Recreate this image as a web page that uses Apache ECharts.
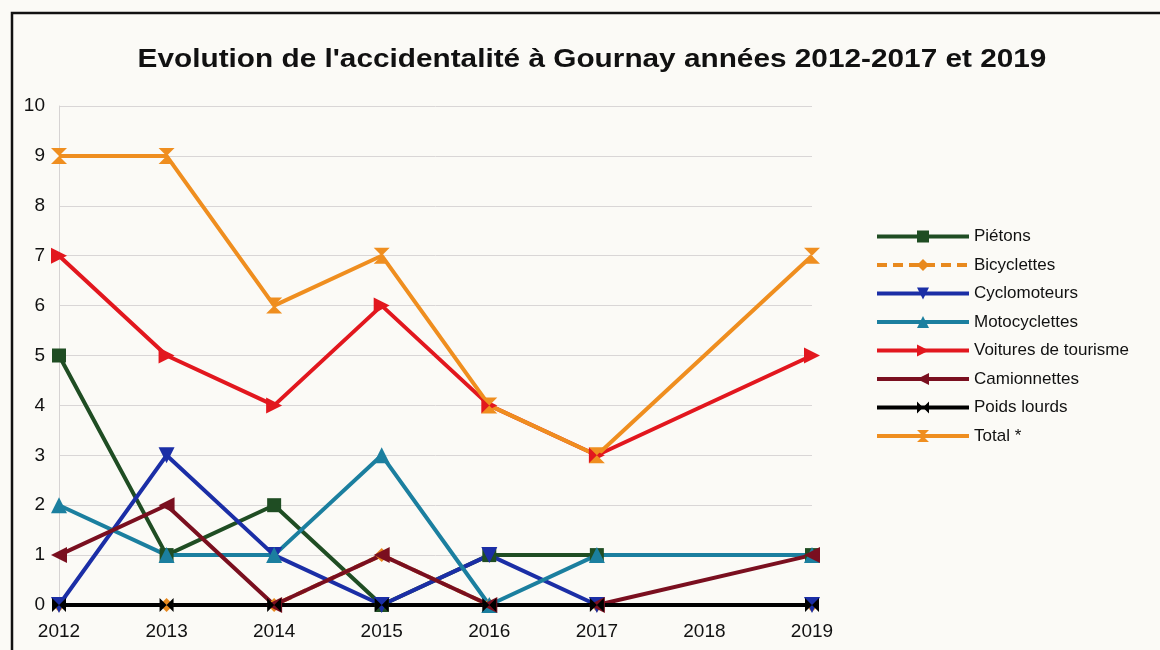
<!DOCTYPE html>
<html>
<head>
<meta charset="utf-8">
<script src="https://cdn.jsdelivr.net/npm/echarts@6/dist/echarts.min.js"></script>
<style>
  html, body { margin: 0; padding: 0; background: #fbfaf6; }
  #main { width: 1160px; height: 650px; }
</style>
</head>
<body>
<div id="main"></div>
<script>
// years on the x axis (2018 has no data)
var years = ['2012', '2013', '2014', '2015', '2016', '2017', '2018', '2019'];
var yTicks = [0, 1, 2, 3, 4, 5, 6, 7, 8, 9, 10];

var pietons       = [5, 1, 2, 0, 1, 1, null, 1];
var bicyclettes   = [0, 0, 0, 1, 0, 0, null, 0];
var cyclomoteurs  = [0, 3, 1, 0, 1, 0, null, 0];
var motocyclettes = [2, 1, 1, 3, 0, 1, null, 1];
var voitures      = [7, 5, 4, 6, 4, 3, null, 5];
var camionnettes  = [1, 2, 0, 1, 0, 0, null, 1];
var poidsLourds   = [0, 0, 0, 0, 0, 0, null, 0];
var total         = [9, 9, 6, 7, 4, 3, null, 7];

var hourglass = 'path://M0,0 L10,0 L0,10 L10,10 Z';
var bowtie = 'path://M0,0 L10,10 L10,0 L0,10 Z';

function serie(name, data, color, symbol, size, dash) {
  var s = {
    name: name,
    type: 'line',
    data: data,
    connectNulls: true,
    symbol: symbol,
    symbolSize: size,
    showAllSymbol: true,
    itemStyle: { color: color },
    lineStyle: { color: color, width: 4 },
    emphasis: { disabled: true }
  };
  if (dash) s.lineStyle.type = dash;
  return s;
}

var chart = echarts.init(document.getElementById('main'));
chart.setOption({
  backgroundColor: '#fbfaf6',
  animation: false,
  graphic: [{
    type: 'polyline',
    shape: { points: [[12, 660], [12, 13], [1170, 13]] },
    style: { stroke: '#111', lineWidth: 2.5, fill: null }
  }, {
    type: 'text',
    x: 592,
    y: 60,
    scaleX: 1.145,
    style: {
      text: "Evolution de l'accidentalité à Gournay années 2012-2017 et 2019",
      font: 'bold 26px "Liberation Sans"',
      fill: '#111',
      align: 'center',
      verticalAlign: 'middle'
    }
  }],
  grid: { left: 59, right: 348, top: 106, bottom: 45 },
  legend: {
    orient: 'vertical',
    left: 875,
    top: 228,
    padding: 0,
    itemWidth: 92,
    itemHeight: 15,
    itemGap: 11.5,
    lineStyle: { width: 4 },
    textStyle: { fontFamily: 'Liberation Sans', fontSize: 17, color: '#111' },
    data: ['Piétons', 'Bicyclettes', 'Cyclomoteurs', 'Motocyclettes', 'Voitures de tourisme', 'Camionnettes', 'Poids lourds', 'Total *']
  },
  xAxis: {
    type: 'category',
    data: years,
    boundaryGap: false,
    axisLine: { show: false },
    axisTick: { show: false },
    axisLabel: { fontFamily: 'Liberation Sans', fontSize: 19, color: '#111', margin: 17 },
    splitLine: { show: false }
  },
  yAxis: {
    type: 'value',
    min: yTicks[0],
    max: yTicks[yTicks.length - 1],
    interval: 1,
    axisLine: { show: true, lineStyle: { color: '#d6d3d3', width: 1 } },
    axisTick: { show: false },
    axisLabel: { fontFamily: 'Liberation Sans', fontSize: 19, color: '#111', margin: 14 },
    splitLine: { lineStyle: { color: '#d9d6d6', width: 1 } }
  },
  series: [
    serie('Piétons', pietons, '#1f4d23', 'rect', 14),
    serie('Bicyclettes', bicyclettes, '#e8891e', 'diamond', 14, [10, 6]),
    serie('Cyclomoteurs', cyclomoteurs, '#1b2ea6', 'path://M0,0 L10,0 L5,10 Z', 16),
    serie('Motocyclettes', motocyclettes, '#1b7f9f', 'triangle', 16),
    serie('Voitures de tourisme', voitures, '#e2171e', 'path://M0,0 L10,5 L0,10 Z', 16),
    serie('Camionnettes', camionnettes, '#7a0f1f', 'path://M10,0 L0,5 L10,10 Z', 16),
    serie('Poids lourds', poidsLourds, '#000000', bowtie, 14),
    serie('Total *', total, '#ef8e1f', hourglass, 16)
  ]
});
</script>
</body>
</html>
